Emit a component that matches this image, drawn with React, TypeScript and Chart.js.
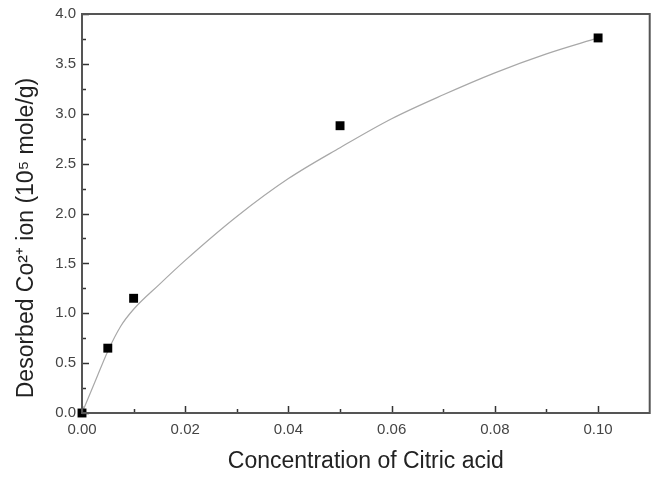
import { useEffect, useRef } from "react";
import { Chart, registerables } from "chart.js";

Chart.register(...registerables);

// Measured points
const concentration = [0, 0.005, 0.01, 0.05, 0.1];
const desorbed = [0, 0.65, 1.15, 2.88, 3.76];

// Fitted curve
const fitX = [0, 0.0025, 0.005, 0.0075, 0.01, 0.015, 0.02, 0.03, 0.04, 0.05, 0.06, 0.07, 0.08, 0.09, 0.1];
const fitY = [0, 0.31, 0.62, 0.87, 1.04, 1.29, 1.53, 1.97, 2.35, 2.66, 2.95, 3.19, 3.41, 3.6, 3.76];

// Axes
const xTicks = [0, 0.02, 0.04, 0.06, 0.08, 0.1];
const xMinorTicks = [0.01, 0.03, 0.05, 0.07, 0.09];
const yTicks = [0, 0.5, 1.0, 1.5, 2.0, 2.5, 3.0, 3.5, 4.0];
const yMinorTicks = [0.25, 0.75, 1.25, 1.75, 2.25, 2.75, 3.25, 3.75];
const xRange = [0, 0.11];
const yRange = [0, 4];

const xTitle = "Concentration of Citric acid";
const yTitle = "Desorbed Co\u00B2\u207A ion (10\u2075 mole/g)";

const FONT = "'Liberation Sans', Arial, sans-serif";

const framePlugin = {
  id: "frameTicks",
  afterDraw(chart: any) {
    const { ctx, chartArea: a, scales } = chart;
    const xs = scales.x;
    const ys = scales.y;
    ctx.save();
    ctx.strokeStyle = "#333";
    ctx.lineWidth = 1.5;
    const tick = (x1: number, y1: number, x2: number, y2: number) => {
      ctx.beginPath();
      ctx.moveTo(x1, y1);
      ctx.lineTo(x2, y2);
      ctx.stroke();
    };
    xTicks.forEach((v) => {
      const p = Math.round(xs.getPixelForValue(v)) + 0.5;
      tick(p, a.bottom, p, a.bottom - 7);
    });
    xMinorTicks.forEach((v) => {
      const p = Math.round(xs.getPixelForValue(v)) + 0.5;
      tick(p, a.bottom, p, a.bottom - 4);
    });
    yTicks.forEach((v) => {
      const p = Math.round(ys.getPixelForValue(v)) + 0.5;
      tick(a.left, p, a.left + 7, p);
    });
    yMinorTicks.forEach((v) => {
      const p = Math.round(ys.getPixelForValue(v)) + 0.5;
      tick(a.left, p, a.left + 4, p);
    });
    // frame
    ctx.strokeStyle = "#555";
    ctx.lineWidth = 2;
    ctx.strokeRect(a.left, a.top, a.right - a.left, a.bottom - a.top);
    // y-axis title
    ctx.fillStyle = "#222";
    ctx.font = `23px ${FONT}`;
    ctx.textAlign = "center";
    ctx.textBaseline = "middle";
    ctx.translate(27, 238);
    ctx.rotate(-Math.PI / 2);
    ctx.fillText(yTitle, 0, 0);
    ctx.restore();
  },
};

export default function App() {
  const ref = useRef<HTMLCanvasElement | null>(null);

  useEffect(() => {
    if (!ref.current) return;
    const chart = new Chart(ref.current, {
      type: "scatter",
      data: {
        datasets: [
          {
            type: "line",
            data: fitX.map((x, i) => ({ x, y: fitY[i] })),
            borderColor: "#a8a8a8",
            borderWidth: 1.2,
            pointRadius: 0,
            cubicInterpolationMode: "monotone",
            fill: false,
            order: 2,
          } as any,
          {
            type: "scatter",
            data: concentration.map((x, i) => ({ x, y: desorbed[i] })),
            pointStyle: "rect",
            pointRadius: 6.3,
            pointBackgroundColor: "#000",
            pointBorderColor: "#000",
            pointBorderWidth: 0,
            order: 1,
          } as any,
        ],
      },
      options: {
        responsive: false,
        animation: false,
        clip: false as any,
        layout: { padding: { top: 14, right: 3, left: 0, bottom: 0 } },
        plugins: { legend: { display: false }, tooltip: { enabled: false } },
        scales: {
          x: {
            type: "linear",
            min: xRange[0],
            max: xRange[1],
            grid: { display: false, drawTicks: false },
            border: { display: false },
            afterBuildTicks: (s: any) => {
              s.ticks = xTicks.map((v) => ({ value: v }));
            },
            afterFit: (s: any) => {
              s.height = 64;
              s.paddingRight = 0;
              s.paddingLeft = 0;
            },
            ticks: {
              padding: 8,
              color: "#444",
              font: { family: FONT, size: 15 },
              callback: (v: any) => Number(v).toFixed(2),
            },
            title: {
              display: true,
              text: xTitle,
              color: "#222",
              font: { family: FONT, size: 23 },
              padding: { top: 0, bottom: 2 },
            },
          },
          y: {
            type: "linear",
            min: yRange[0],
            max: yRange[1],
            grid: { display: false, drawTicks: false },
            border: { display: false },
            afterBuildTicks: (s: any) => {
              s.ticks = yTicks.map((v) => ({ value: v }));
            },
            afterFit: (s: any) => {
              s.width = 82;
              s.paddingTop = 0;
              s.paddingBottom = 0;
            },
            ticks: {
              padding: 6,
              color: "#444",
              font: { family: FONT, size: 15 },
              callback: (v: any) => Number(v).toFixed(1),
            },
            title: { display: false },
          },
        },
      },
      plugins: [framePlugin],
    });
    return () => chart.destroy();
  }, []);

  return (
    <div style={{ position: "fixed", left: 0, top: 0, width: 656, height: 477, background: "#fff" }}>
      <canvas ref={ref} width={656} height={477} />
    </div>
  );
}
